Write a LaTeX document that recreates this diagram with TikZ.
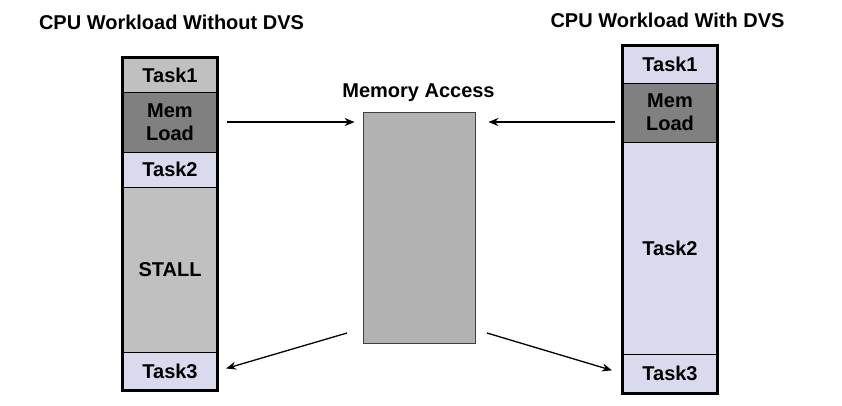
\documentclass[tikz,border=0pt]{standalone}
\usepackage{fontspec}
\setmainfont{Liberation Sans}
\usetikzlibrary{
  positioning,
  arrows.meta
}
\definecolor{wlGray}{HTML}{C0C0C0}
\definecolor{wlDark}{HTML}{808080}
\definecolor{wlLav}{HTML}{DADAEE}
\definecolor{wlMem}{HTML}{B2B2B2}

\begin{document}
\begin{tikzpicture}[
  x=1pt, y=-1pt,
  every node/.style={font=\fontsize{20}{23}\selectfont\bfseries, align=center, inner sep=0pt},
  blk/.style={
    rectangle, draw=black, line width=1pt,
    minimum width=94pt
  },
  arrow/.style={-{Stealth[length=10pt, width=8pt]}, line width=1.3pt},
  outline/.style={line width=2.5pt}
]
 \useasboundingbox (0,0) rectangle (842,405);

 % Headers
 \node (hl) at (171.5,22) {CPU Workload Without DVS};
 \node (hr) at (667.5,20) {CPU Workload With DVS};
 \node (hm) at (418.5,93) {Memory Access};

 % Without DVS
 \node[blk, fill=wlGray, minimum height=34pt]  (lt1) at (170,75)    {Task1};
 \node[blk, fill=wlDark, minimum height=60pt]  (lm)  at (170,122)   {Mem\\Load};
 \node[blk, fill=wlLav,  minimum height=35pt]  (lt2) at (170,169.5) {Task2};
 \node[blk, fill=wlGray, minimum height=165pt] (ls)  at (170,269.5) {STALL};
 \node[blk, fill=wlLav,  minimum height=38pt]  (lt3) at (170,371)   {Task3};
 \draw[outline] (lt1.north west) rectangle (lt3.south east);

 % With DVS
 \node[blk, fill=wlLav,  minimum height=37pt]  (rt1) at (670,64.5)  {Task1};
 \node[blk, fill=wlDark, minimum height=59pt]  (rm)  at (670,112.5) {Mem\\Load};
 \node[blk, fill=wlLav,  minimum height=212pt] (rt2) at (670,248)   {Task2};
 \node[blk, fill=wlLav,  minimum height=39pt]  (rt3) at (670,373.5) {Task3};
 \draw[outline] (rt1.north west) rectangle (rt3.south east);

 % Memory
 \node[rectangle, draw=black!75, fill=wlMem, line width=0.8pt,
       minimum width=112pt, minimum height=231pt] (mem) at (419,227.5) {};

 % Arrows
 \coordinate (al) at (227,122);
 \coordinate (ar) at (615,122);
 \coordinate (bl) at (347,333);
 \coordinate (br) at (487,333);
 \draw[arrow, shorten >=8pt] (al) -- (al -| mem.west);
 \draw[arrow, shorten >=13pt] (ar) -- (ar -| mem.east);
 \draw[arrow, shorten >=9pt] (bl) -- (lt3.east);
 \draw[arrow, shorten >=11pt] (br) -- (rt3.west);
\end{tikzpicture}
\end{document}
